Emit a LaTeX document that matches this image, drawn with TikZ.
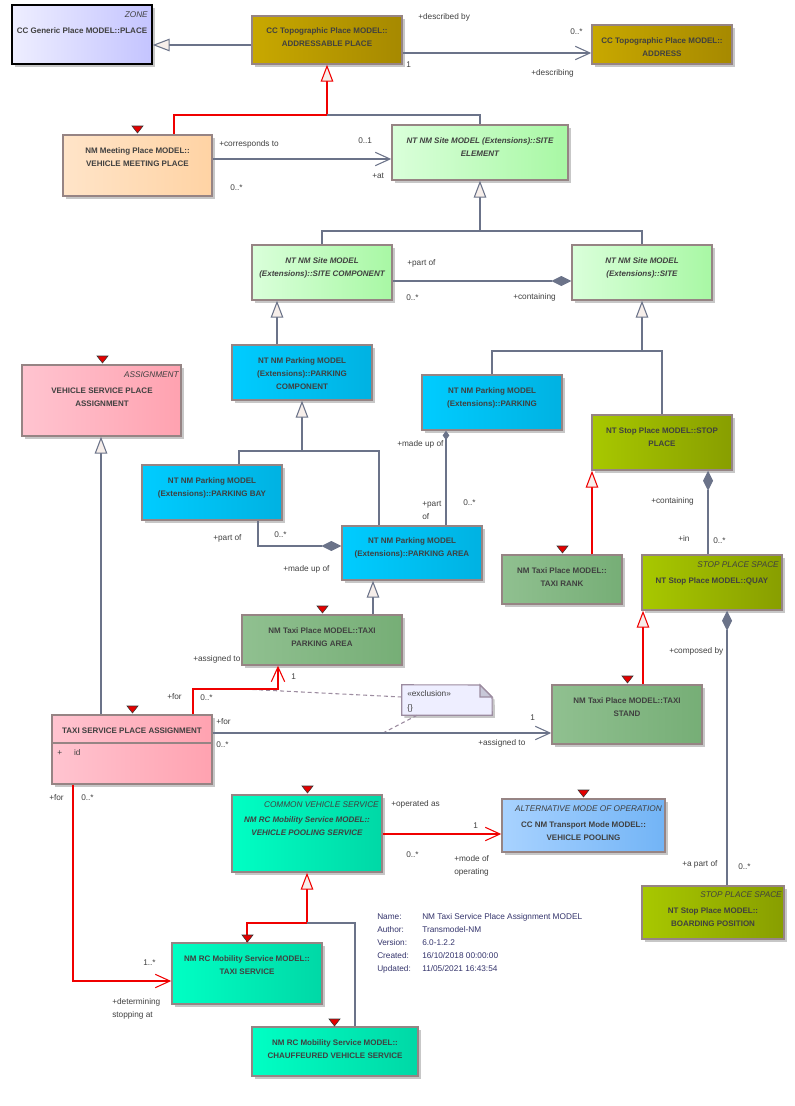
\documentclass[tikz,border=0pt]{standalone}
\usepackage{fontspec}
\setmainfont{Liberation Sans}
\usetikzlibrary{arrows.meta,fit,shadows}

\definecolor{linec}{HTML}{6B7389}
\definecolor{boxc}{HTML}{968484}
\definecolor{txt}{HTML}{404040}
\definecolor{metac}{HTML}{33336B}
\definecolor{trifill}{HTML}{F6EEEA}
\definecolor{redc}{HTML}{F00000}
\definecolor{zoneL}{HTML}{EEEEFF}
\definecolor{zoneR}{HTML}{C4C4FF}
\definecolor{goldL}{HTML}{C8A800}
\definecolor{goldR}{HTML}{A68900}
\definecolor{peachL}{HTML}{FFE4C8}
\definecolor{peachR}{HTML}{FFD3A4}
\definecolor{greenL}{HTML}{DAFFDA}
\definecolor{greenR}{HTML}{A8F8A4}
\definecolor{cyanL}{HTML}{00CCFF}
\definecolor{cyanR}{HTML}{00B2E2}
\definecolor{pinkL}{HTML}{FFC4D0}
\definecolor{pinkR}{HTML}{FFA2B0}
\definecolor{oliveL}{HTML}{A8C800}
\definecolor{oliveR}{HTML}{889E00}
\definecolor{taxiL}{HTML}{90C090}
\definecolor{taxiR}{HTML}{76AE76}
\definecolor{tealL}{HTML}{00FFC4}
\definecolor{tealR}{HTML}{00D8A6}
\definecolor{blueL}{HTML}{A8D2FF}
\definecolor{blueR}{HTML}{72B4F6}
\definecolor{noteF}{HTML}{EEEEFF}
\definecolor{noteD}{HTML}{9C8CA0}
\definecolor{foldc}{HTML}{C8C8D8}

\begin{document}
\begin{tikzpicture}[x=0.75pt, y=-0.75pt,
  box/.style={draw=boxc, line width=1.1pt, inner sep=0pt,
    drop shadow={shadow xshift=2.2pt, shadow yshift=-2.2pt, fill=black!22, opacity=1}},
  zone/.style={box, draw=black, left color=zoneL, right color=zoneR},
  gold/.style={box, left color=goldL, right color=goldR},
  peach/.style={box, left color=peachL, right color=peachR},
  green/.style={box, left color=greenL, right color=greenR},
  cyanbox/.style={box, left color=cyanL, right color=cyanR},
  pink/.style={box, left color=pinkL, right color=pinkR},
  olive/.style={box, left color=oliveL, right color=oliveR},
  taxi/.style={box, left color=taxiL, right color=taxiR},
  teal/.style={box, left color=tealL, right color=tealR},
  bluebox/.style={box, left color=blueL, right color=blueR},
  nm/.style={font=\fontsize{6}{9.75}\selectfont\bfseries, text=txt, align=center, inner sep=0pt},
  nmi/.style={nm, font=\fontsize{6}{9.75}\selectfont\bfseries\itshape},
  ster/.style={font=\fontsize{6.2}{9.75}\selectfont\itshape, text=txt, anchor=east, inner sep=0pt},
  lbl/.style={font=\fontsize{6.2}{9.75}\selectfont, text=txt, anchor=west, inner sep=0pt, align=left},
  conn/.style={draw=linec, line width=0.8pt},
  gen/.style={conn, -{Triangle[length=12.75pt, width=9.5pt, fill=trifill]}},
  genr/.style={gen, draw=redc},
  assoc/.style={conn, -{Straight Barb[length=11pt, width=10pt]}},
  assocr/.style={assoc, draw=redc},
  comp/.style={conn, {Diamond[length=15pt, width=7.5pt]}-},
  compsm/.style={conn, {Diamond[length=7pt, width=5pt]}-},
  redmark/.style={fill=red!90!black, draw=black!80, line width=0.4pt},
  notebox/.style={draw=noteD, line width=0.8pt, fill=noteF},
  exline/.style={draw=noteD, line width=0.8pt, dash pattern=on 3pt off 2.2pt}
]
\useasboundingbox (0,0) rectangle (795,1106);

% classes
\node[zone, fit={(12,5) (152,64)}] (place) {};
\node[gold, fit={(252,16) (402,64)}] (adp) {};
\node[gold, fit={(592,25) (732,64)}] (addr) {};
\node[peach, fit={(63,135) (212,196)}] (vmp) {};
\node[green, fit={(392,125) (568,180)}] (sel) {};
\node[green, fit={(252,245) (392,300)}] (scomp) {};
\node[green, fit={(572,245) (712,300)}] (site) {};
\node[cyanbox, fit={(232,345) (372,400)}] (pcomp) {};
\node[pink, fit={(22,365) (181,436)}] (vspa) {};
\node[cyanbox, fit={(422,375) (562,430)}] (park) {};
\node[olive, fit={(592,415) (732,470)}] (stop) {};
\node[cyanbox, fit={(142,465) (282,520)}] (bay) {};
\node[cyanbox, fit={(342,526) (482,580)}] (parea) {};
\node[taxi, fit={(242,615) (402,665)}] (tpa) {};
\node[taxi, fit={(502,555) (622,604)}] (rank) {};
\node[olive, fit={(642,555) (782,610)}] (quay) {};
\node[taxi, fit={(552,685) (702,744)}] (stand) {};
\node[olive, fit={(642,886) (784,939)}] (board) {};
\node[pink, fit={(52,715) (212,784)}] (tspa) {};
\node[teal, fit={(232,795) (382,872)}] (vps) {};
\node[bluebox, fit={(502,799) (665,852)}] (vp) {};
\node[teal, fit={(172,943) (322,1004)}] (tsrv) {};
\node[teal, fit={(252,1027) (418,1076)}] (chauf) {};
\draw[draw=boxc, line width=1.1pt] (tspa.west |- 0,743) -- (tspa.east |- 0,743);

% note
\node[inner sep=0pt, fit={(402,685) (492,715)}] (excl) {};
\draw[notebox, drop shadow={shadow xshift=2pt, shadow yshift=-2pt, fill=black!22, opacity=1}]
  (excl.north west) -- (480,685) -- (492,697) -- (excl.south east) -- (excl.south west) -- cycle;
\draw[notebox, fill=foldc] (480,685) -- (492,697) -- (480,697) -- cycle;
\coordinate (ex1) at (242,689);
\coordinate (ex2) at (383,733);
\draw[exline] (excl.west |- 0,697) -- (ex1);
\draw[exline] (excl.south -| 417,0) -- (ex2);

% connectors
\draw[gen] (adp.west |- 0,45) -- (place.east |- 0,45);
\draw[assoc] (adp.east |- 0,53) -- (addr.west |- 0,53);
\draw[genr] (vmp.north -| 174,0) |- (adp.south |- 0,115) -- (adp.south);
\draw[conn] (sel.north) |- (adp.south |- 0,115);
\draw[assoc] (vmp.east |- 0,159) -- (sel.west |- 0,159);
\draw[gen] (scomp.north) |- (sel.south |- 0,231) -- (sel.south);
\draw[conn] (site.north) |- (sel.south |- 0,231);
\draw[comp] (site.west |- 0,281) -- (scomp.east |- 0,281);
\draw[gen] (pcomp.north -| 277,0) -- (scomp.south -| 277,0);
\draw[gen] (park.north) |- (site.south |- 0,351) -- (site.south);
\draw[conn] (stop.north) |- (site.south |- 0,351);
\draw[gen] (bay.north -| 239,0) |- (pcomp.south |- 0,451) -- (pcomp.south);
\draw[conn] (parea.north -| 379,0) |- (pcomp.south |- 0,451);
\draw[comp] (parea.west |- 0,546) -| (bay.south -| 258,0);
\draw[compsm] (park.south -| 446,0) -- (parea.north -| 446,0);
\draw[gen] (tpa.north -| 373,0) -- (parea.south -| 373,0);
\draw[genr] (rank.north -| 592,0) -- (stop.south -| 592,0);
\draw[comp] (stop.south -| 708,0) -- (quay.north -| 708,0);
\draw[genr] (stand.north -| 643,0) -- (quay.south -| 643,0);
\draw[comp] (quay.south -| 727,0) -- (board.north -| 727,0);
\draw[gen] (tspa.north -| 101,0) -- (vspa.south -| 101,0);
\draw[assocr] (tspa.north -| 193,0) |- (278,689) -- (tpa.south -| 278,0);
\draw[assoc] (tspa.east |- 0,733) -- (stand.west |- 0,733);
\draw[assocr] (vps.east |- 0,834) -- (vp.west |- 0,834);
\draw[genr] (tsrv.north) |- (vps.south |- 0,923) -- (vps.south);
\draw[conn] (chauf.north -| 355,0) |- (vps.south |- 0,923);
\draw[assocr] (tspa.south -| 73,0) |- (tsrv.west |- 0,981);

% red markers
\draw[redmark] (137.5,133) -- ++(-5.5,-7) -- ++(11,0) -- cycle;
\draw[redmark] (102.5,363) -- ++(-5.5,-7) -- ++(11,0) -- cycle;
\draw[redmark] (322.5,613) -- ++(-5.5,-7) -- ++(11,0) -- cycle;
\draw[redmark] (562.5,553) -- ++(-5.5,-7) -- ++(11,0) -- cycle;
\draw[redmark] (627.5,683) -- ++(-5.5,-7) -- ++(11,0) -- cycle;
\draw[redmark] (132.5,713) -- ++(-5.5,-7) -- ++(11,0) -- cycle;
\draw[redmark] (307.5,793) -- ++(-5.5,-7) -- ++(11,0) -- cycle;
\draw[redmark] (583.5,797) -- ++(-5.5,-7) -- ++(11,0) -- cycle;
\draw[redmark] (247.5,942) -- ++(-5.5,-7) -- ++(11,0) -- cycle;
\draw[redmark] (334.5,1026) -- ++(-5.5,-7) -- ++(11,0) -- cycle;

% class texts
\node[ster] (place-s) at (148,15) {ZONE};
\node[nm] (place-t) at (82,31) {CC Generic Place MODEL::PLACE};
\node[nm] (adp-t) at (327,37.5) {CC Topographic Place MODEL::\\ADDRESSABLE PLACE};
\node[nm] (addr-t) at (662,47.5) {CC Topographic Place MODEL::\\ADDRESS};
\node[nm] (vmp-t) at (137.5,157.5) {NM Meeting Place MODEL::\\VEHICLE MEETING PLACE};
\node[nmi] (sel-t) at (480,147.5) {NT NM Site MODEL (Extensions)::SITE\\ELEMENT};
\node[nmi] (scomp-t) at (322,267.5) {NT NM Site MODEL\\(Extensions)::SITE COMPONENT};
\node[nmi] (site-t) at (642,267.5) {NT NM Site MODEL\\(Extensions)::SITE};
\node[nm] (pcomp-t) at (302,374) {NT NM Parking MODEL\\(Extensions)::PARKING\\COMPONENT};
\node[ster] (vspa-s) at (179,375) {ASSIGNMENT};
\node[nm] (vspa-t) at (102,397.5) {VEHICLE SERVICE PLACE\\ASSIGNMENT};
\node[nm] (park-t) at (492,397.5) {NT NM Parking MODEL\\(Extensions)::PARKING};
\node[nm] (stop-t) at (662,437.5) {NT Stop Place MODEL::STOP\\PLACE};
\node[nm] (bay-t) at (212,487.5) {NT NM Parking MODEL\\(Extensions)::PARKING BAY};
\node[nm] (parea-t) at (412,547.5) {NT NM Parking MODEL\\(Extensions)::PARKING AREA};
\node[nm] (tpa-t) at (322,637.5) {NM Taxi Place MODEL::TAXI\\PARKING AREA};
\node[nm] (rank-t) at (562,577.5) {NM Taxi Place MODEL::\\TAXI RANK};
\node[ster] (quay-s) at (779,565) {STOP PLACE SPACE};
\node[nm] (quay-t) at (712,581) {NT Stop Place MODEL::QUAY};
\node[nm] (stand-t) at (627,707.5) {NM Taxi Place MODEL::TAXI\\STAND};
\node[ster] (board-s) at (782,895) {STOP PLACE SPACE};
\node[nm] (board-t) at (713,917.5) {NT Stop Place MODEL::\\BOARDING POSITION};
\node[nm] (tspa-t) at (132,731) {TAXI SERVICE PLACE ASSIGNMENT};
\node[lbl] (tspa-id) at (57,753) {+\hspace{9pt}id};
\node[ster] (vps-s) at (379,805) {COMMON VEHICLE SERVICE};
\node[nmi] (vps-t) at (307,826.5) {NM RC Mobility Service MODEL::\\VEHICLE POOLING SERVICE};
\node[ster] (vp-s) at (662,809) {ALTERNATIVE MODE OF OPERATION};
\node[nm] (vp-t) at (583.5,831.5) {CC NM Transport Mode MODEL::\\VEHICLE POOLING};
\node[nm] (tsrv-t) at (247,965.5) {NM RC Mobility Service MODEL::\\TAXI SERVICE};
\node[nm] (chauf-t) at (335,1049.5) {NM RC Mobility Service MODEL::\\CHAUFFEURED VEHICLE SERVICE};
\node[lbl] (excl-a) at (407,694) {«exclusion»};
\node[lbl] (excl-b) at (407,708) {\{\}};

% role and multiplicity labels
\node[lbl] (descby) at (418,17) {+described by};
\node[lbl] (one1) at (406,65) {1};
\node[lbl] (many1) at (570,32) {0..*};
\node[lbl] (desc) at (531,73) {+describing};
\node[lbl] (corr) at (219,144) {+corresponds to};
\node[lbl] (zo1) at (358,141) {0..1};
\node[lbl] (at1) at (372,176) {+at};
\node[lbl] (many2) at (230,188) {0..*};
\node[lbl] (partof1) at (407,263) {+part of};
\node[lbl] (many3) at (406,298) {0..*};
\node[lbl] (cont1) at (513,297) {+containing};
\node[lbl] (madeup1) at (397,444) {+made up of};
\node[lbl] (partof2) at (422,510.5) {+part\\of};
\node[lbl] (many4) at (463,503) {0..*};
\node[lbl] (partof3) at (213,538) {+part of};
\node[lbl] (many5) at (274,535) {0..*};
\node[lbl] (madeup2) at (283,569) {+made up of};
\node[lbl] (asgto1) at (193,659) {+assigned to};
\node[lbl] (cont2) at (651,501) {+containing};
\node[lbl] (in1) at (678,538) {+in};
\node[lbl] (many6) at (713,541) {0..*};
\node[lbl] (compby) at (669,651) {+composed by};
\node[lbl] (for1) at (167,697) {+for};
\node[lbl] (many7) at (200,698) {0..*};
\node[lbl] (one2) at (291,677) {1};
\node[lbl] (for2) at (216,722) {+for};
\node[lbl] (many8) at (216,745) {0..*};
\node[lbl] (one3) at (530,718) {1};
\node[lbl] (asgto2) at (478,743) {+assigned to};
\node[lbl] (for3) at (49,798) {+for};
\node[lbl] (many9) at (81,798) {0..*};
\node[lbl] (onem) at (143,963) {1..*};
\node[lbl] (determ) at (112,1008.5) {+determining\\stopping at};
\node[lbl] (opas) at (391,804) {+operated as};
\node[lbl] (one4) at (473,826) {1};
\node[lbl] (many10) at (406,855) {0..*};
\node[lbl] (modeof) at (454,865.5) {+mode of\\operating};
\node[lbl] (apart) at (682,864) {+a part of};
\node[lbl] (many11) at (738,867) {0..*};

% diagram properties
\node[lbl, text=metac] (meta) at (377,943) {\makebox[33.75pt][l]{Name:}NM Taxi Service Place Assignment MODEL\\
  \makebox[33.75pt][l]{Author:}Transmodel-NM\\
  \makebox[33.75pt][l]{Version:}6.0-1.2.2\\
  \makebox[33.75pt][l]{Created:}16/10/2018 00:00:00\\
  \makebox[33.75pt][l]{Updated:}11/05/2021 16:43:54};
\end{tikzpicture}
\end{document}
